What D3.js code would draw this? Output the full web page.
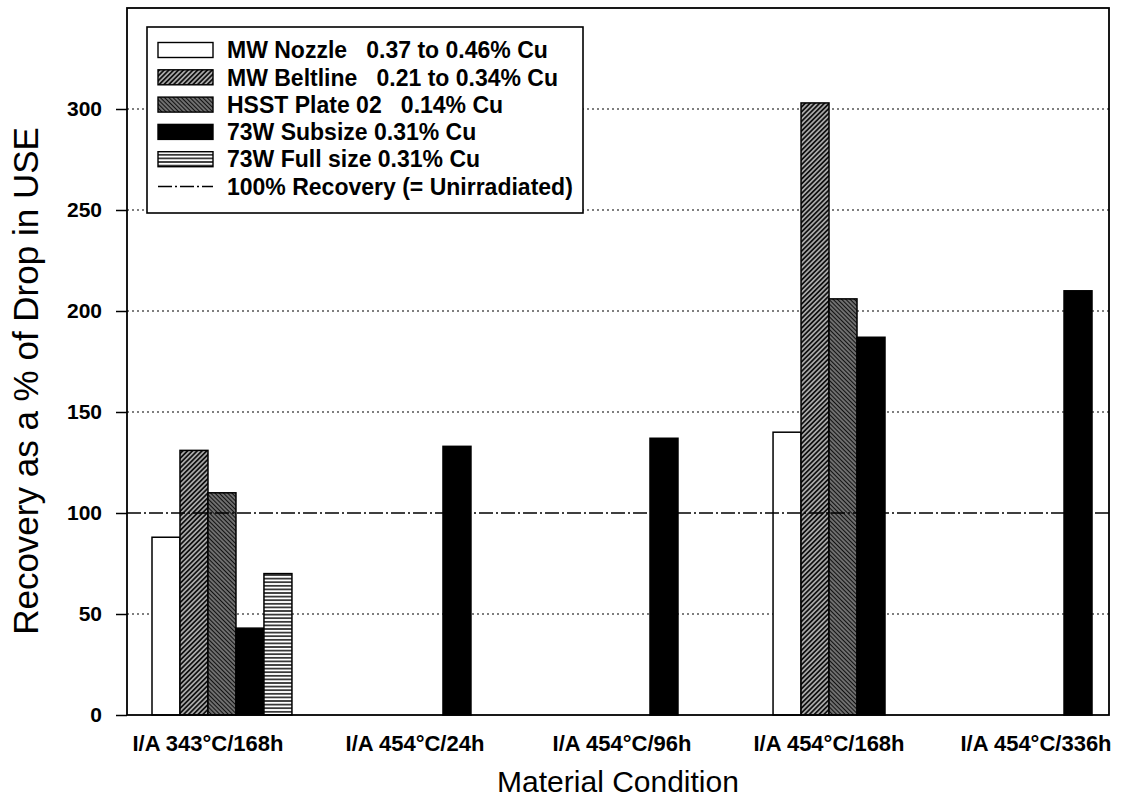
<!DOCTYPE html>
<html>
<head>
<meta charset="utf-8">
<script src="https://cdn.jsdelivr.net/npm/d3@7/dist/d3.min.js"></script>
<style>
  body { margin: 0; background: #fff; }
  svg text { font-family: "Liberation Sans", Arial, sans-serif; }
</style>
</head>
<body>
<div id="chart"></div>
<script>
// categories on the x axis
var conditions = ["I/A 343°C/168h", "I/A 454°C/24h", "I/A 454°C/96h", "I/A 454°C/168h", "I/A 454°C/336h"];

// series (null = no bar)
var mwNozzle    = [88, null, null, 140, null];
var mwBeltline  = [131, null, null, 303, null];
var hsstPlate02 = [110, null, null, 206, null];
var subsize73W  = [43, 133, 137, 187, 210];
var fullsize73W = [70, null, null, null, null];

var seriesKeys   = ["nozzle", "beltline", "hsst", "subsize", "fullsize"];
var seriesLabels = ["MW Nozzle   0.37 to 0.46% Cu", "MW Beltline   0.21 to 0.34% Cu",
                    "HSST Plate 02   0.14% Cu", "73W Subsize 0.31% Cu", "73W Full size 0.31% Cu"];
var refLabel = "100% Recovery (= Unirradiated)";

var yTicks    = [0, 50, 100, 150, 200, 250, 300];
var gridTicks = [50, 150, 200, 250, 300];
var recoveryLevel = 100;

var W = 1134, H = 798;
var margin = {top: 8, left: 127, right: 25, bottom: 83};
var width = W - margin.left - margin.right,
    height = H - margin.top - margin.bottom;

var svg = d3.select("#chart").append("svg")
    .attr("width", W).attr("height", H);

// patterns for the scanned hatch fills
var defs = svg.append("defs");
function hatch(id, bg, size, angle, sw, col) {
  var p = defs.append("pattern").attr("id", id)
      .attr("patternUnits", "userSpaceOnUse")
      .attr("width", size).attr("height", size)
      .attr("patternTransform", "rotate(" + angle + ")");
  p.append("rect").attr("width", size).attr("height", size).attr("fill", bg);
  p.append("line").attr("x1", 0).attr("y1", size / 2).attr("x2", size).attr("y2", size / 2)
      .attr("stroke", col).attr("stroke-width", sw);
}
hatch("pBelt", "#a8a8a8", 3.4, -45, 1.7, "#111");
hatch("pHsst", "#8e8e8e", 3, 45, 1.5, "#111");
hatch("pFull", "#fff", 3.6, 0, 1.5, "#111");

var fills = {nozzle: "#fff", beltline: "url(#pBelt)", hsst: "url(#pHsst)", subsize: "#000", fullsize: "url(#pFull)"};

var data = conditions.map(function(c, i) {
  return {cond: c, values: [
    {key: "nozzle", v: mwNozzle[i]},
    {key: "beltline", v: mwBeltline[i]},
    {key: "hsst", v: hsstPlate02[i]},
    {key: "subsize", v: subsize73W[i]},
    {key: "fullsize", v: fullsize73W[i]}
  ]};
});

var g = svg.append("g").attr("transform", "translate(" + margin.left + "," + margin.top + ")");

var y = d3.scaleLinear().domain([0, 350]).range([height, 0]);
var x0 = d3.scaleBand().domain(conditions).range([25, 993]).paddingInner(0.324).paddingOuter(0);
var x1 = d3.scaleBand().domain(seriesKeys).range([0, x0.bandwidth()]);

// dotted grid
g.selectAll(".grid").data(gridTicks).enter().append("line")
    .attr("x1", 0).attr("x2", width)
    .attr("y1", function(d) { return y(d); }).attr("y2", function(d) { return y(d); })
    .attr("stroke", "#000").attr("stroke-width", 1.2).attr("stroke-dasharray", "2,3");

// bars
var groups = g.selectAll(".grp").data(data).enter().append("g")
    .attr("transform", function(d) { return "translate(" + x0(d.cond) + ",0)"; });
groups.selectAll("rect").data(function(d) { return d.values.filter(function(e) { return e.v != null; }); })
  .enter().append("rect")
    .attr("x", function(d) { return x1(d.key); })
    .attr("y", function(d) { return y(d.v); })
    .attr("width", x1.bandwidth())
    .attr("height", function(d) { return height - y(d.v); })
    .attr("fill", function(d) { return fills[d.key]; })
    .attr("stroke", "#000").attr("stroke-width", 1.5);

// 100% reference line
g.append("line")
    .attr("x1", 0).attr("x2", width)
    .attr("y1", y(recoveryLevel)).attr("y2", y(recoveryLevel))
    .attr("stroke", "#000").attr("stroke-width", 1.6).attr("stroke-dasharray", "14,3,2,3");

// frame
g.append("rect").attr("width", width).attr("height", height)
    .attr("fill", "none").attr("stroke", "#000").attr("stroke-width", 1.8);

// y axis
var yAxis = d3.axisLeft(y).tickValues(yTicks).tickSize(11).tickPadding(14);
var ya = g.append("g").call(yAxis);
ya.select(".domain").remove();
ya.selectAll(".tick line").attr("stroke-width", 1.5);
ya.selectAll("text").attr("font-size", 21).attr("font-weight", "bold")
    .attr("font-family", "'Liberation Sans', Arial, sans-serif").attr("fill", "#000");

// x labels
var labelOffset = (x1("nozzle") + x1("subsize") + x1.bandwidth()) / 2;
g.selectAll(".xl").data(conditions).enter().append("text")
    .attr("x", function(d) { return x0(d) + labelOffset; })
    .attr("y", height + 36)
    .attr("text-anchor", "middle")
    .style("font-family", "'Liberation Sans Narrow', 'Arial Narrow', sans-serif")
    .attr("font-size", 22).attr("font-weight", "bold")
    .text(function(d) { return d; });

// axis titles
svg.append("text")
    .attr("x", 618).attr("y", 792)
    .attr("text-anchor", "middle")
    .style("font-family", "'Liberation Sans Narrow', 'Arial Narrow', sans-serif")
    .attr("font-size", 30)
    .text("Material Condition");

svg.append("text")
    .attr("transform", "translate(38,381) rotate(-90)")
    .attr("text-anchor", "middle")
    .attr("font-size", 35)
    .text("Recovery as a % of Drop in USE");

// legend
var lg = svg.append("g").attr("transform", "translate(147,27)");
lg.append("rect").attr("width", 436).attr("height", 186)
    .attr("fill", "#fff").attr("stroke", "#000").attr("stroke-width", 1.6);
var rowH = 27.3;
seriesKeys.forEach(function(k, i) {
  var cy = 23 + i * rowH;
  lg.append("rect").attr("x", 11).attr("y", cy - 7.5).attr("width", 55).attr("height", 15)
      .attr("fill", fills[k]).attr("stroke", "#000").attr("stroke-width", 1.4);
  lg.append("text").attr("x", 80).attr("y", cy).attr("dy", "0.36em")
      .attr("font-size", 23).attr("font-weight", "bold")
      .style("white-space", "pre")
      .text(seriesLabels[i]);
});
var ry = 23 + 5 * rowH;
lg.append("line").attr("x1", 11).attr("x2", 66).attr("y1", ry).attr("y2", ry)
    .attr("stroke", "#000").attr("stroke-width", 1.6).attr("stroke-dasharray", "14,3,2,3");
lg.append("text").attr("x", 80).attr("y", ry).attr("dy", "0.36em")
    .attr("font-size", 23).attr("font-weight", "bold")
    .text(refLabel);
</script>
</body>
</html>
